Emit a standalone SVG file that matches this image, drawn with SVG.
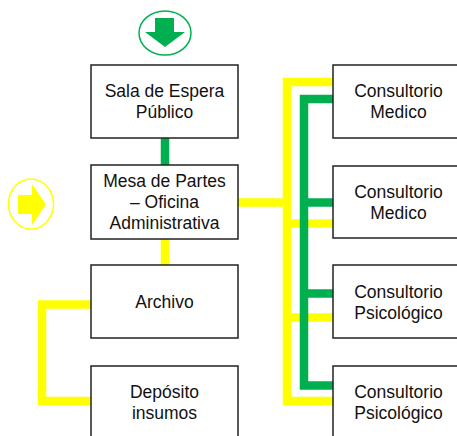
<svg xmlns="http://www.w3.org/2000/svg" width="457" height="436" viewBox="0 0 457 436">
<style>
.box{fill:#fff;stroke:#222;stroke-width:1.5}
.t{font-family:"Liberation Sans",Arial,sans-serif;font-size:17.5px;fill:#111;text-anchor:middle}
.y{fill:none;stroke:#FFFF00;stroke-width:8.5;stroke-linejoin:miter}
.g{fill:none;stroke:#00B050;stroke-width:8.5;stroke-linejoin:miter}
</style>
<rect width="457" height="436" fill="#fff"/>
<g id="connectors">
<path class="g" d="M165,137V166"/>
<path class="y" d="M165,238V266"/>
<path class="y" d="M238,202.5H287"/>
<path class="y" d="M333,82H287V401H333"/>
<path class="y" d="M287,223.5H335"/>
<path class="y" d="M287,317.5H335"/>
<path class="g" d="M333,99H304V385.5H333"/>
<path class="g" d="M304,202.5H333"/>
<path class="g" d="M304,293.5H333"/>
<path class="y" d="M91,304.5H42V401H91"/>
</g>
<g id="start-green">
<ellipse cx="165" cy="33" rx="26" ry="22" fill="#fff" stroke="#00B050" stroke-width="1.5"/>
<polygon points="155,18 174,18 174,32 185,32 165,47 145,32 155,32" fill="#00B050"/>
</g>
<g id="start-yellow">
<ellipse cx="31" cy="204" rx="22.5" ry="25" fill="#fff" stroke="#FFFF00" stroke-width="1.5"/>
<polygon points="18,195 32,195 32,184 46,204.5 32,225 32,214 18,214" fill="#FFFF00"/>
</g>
<g id="sala">
<rect class="box" x="91" y="65" width="147" height="73"/>
<text class="t" x="164.5" y="96.5">Sala de Espera</text>
<text class="t" x="164.5" y="118">Público</text>
</g>
<g id="mesa">
<rect class="box" x="91" y="165" width="147" height="74"/>
<text class="t" x="164.5" y="186.5">Mesa de Partes</text>
<text class="t" x="164.5" y="207.5">– Oficina</text>
<text class="t" x="164.5" y="228.5">Administrativa</text>
</g>
<g id="archivo">
<rect class="box" x="91" y="265" width="147" height="73"/>
<text class="t" x="164.5" y="308">Archivo</text>
</g>
<g id="deposito">
<rect class="box" x="91" y="366" width="147" height="80"/>
<text class="t" x="164.5" y="397.5">Depósito</text>
<text class="t" x="164.5" y="418.5">insumos</text>
</g>
<g id="consultorio1">
<rect class="box" x="333" y="65" width="140" height="73"/>
<text class="t" x="398.5" y="96.5">Consultorio</text>
<text class="t" x="398.5" y="117.5">Medico</text>
</g>
<g id="consultorio2">
<rect class="box" x="333" y="166" width="140" height="72"/>
<text class="t" x="398.5" y="197.5">Consultorio</text>
<text class="t" x="398.5" y="218.5">Medico</text>
</g>
<g id="consultorio3">
<rect class="box" x="333" y="265" width="140" height="73"/>
<text class="t" x="398.5" y="297.5">Consultorio</text>
<text class="t" x="398.5" y="319">Psicológico</text>
</g>
<g id="consultorio4">
<rect class="box" x="333" y="366" width="140" height="80"/>
<text class="t" x="398.5" y="397.5">Consultorio</text>
<text class="t" x="398.5" y="418.5">Psicológico</text>
</g>
</svg>
